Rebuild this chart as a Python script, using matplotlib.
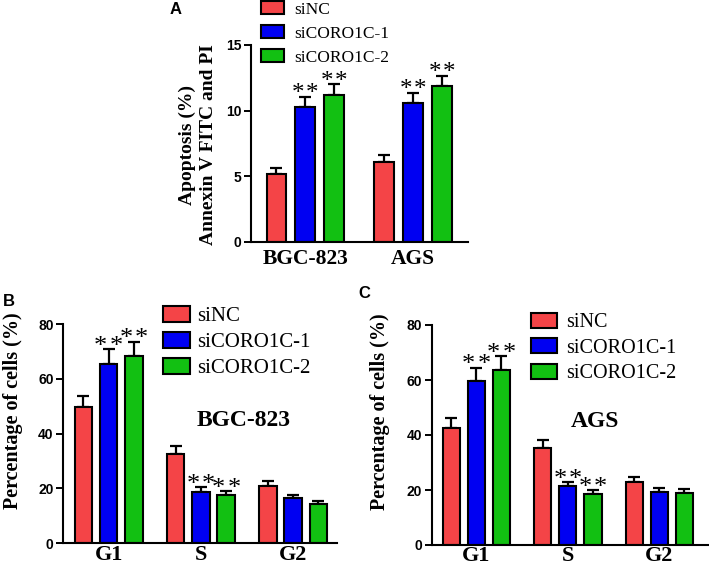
import matplotlib
matplotlib.use("Agg")
import matplotlib.pyplot as plt
from matplotlib.patches import Patch
import numpy as np

SERIF = ["Liberation Serif", "DejaVu Serif"]
SANS = ["Liberation Sans", "DejaVu Sans"]

# --- data ---
series = ["siNC", "siCORO1C-1", "siCORO1C-2"]
colors = ["#F44447", "#0000F2", "#12C012"]

apo_groups = ["BGC-823", "AGS"]
apo_mean = [[5.2, 6.1], [10.3, 10.6], [11.2, 11.9]]
apo_err = [[0.43, 0.5], [0.76, 0.76], [0.84, 0.76]]
apo_sig = [[False, False], [True, True], [True, True]]

phases = ["G1", "S", "G2"]
bgc_mean = [[49.7, 32.7, 20.8], [65.5, 18.8, 16.4], [68.5, 17.6, 14.3]]
bgc_err = [[4.2, 2.8, 1.9], [5.4, 1.6, 1.2], [5.1, 1.4, 1.1]]
bgc_sig = [[False, False, False], [True, True, False], [True, True, False]]

ags_mean = [[42.4, 35.4, 22.9], [59.6, 21.5, 19.4], [63.5, 18.4, 19.0]]
ags_err = [[3.9, 2.8, 1.8], [4.9, 1.5, 1.4], [5.2, 1.5, 1.5]]
ags_sig = [[False, False, False], [True, True, False], [True, True, False]]


def draw_bars(ax, groups, means, errs, sigs, gap, ylim, yticks, xlim,
              star_size, star_dx, tick_size, tick_pad):
    x0 = np.arange(len(groups)) * gap
    for i, (m, e, s) in enumerate(zip(means, errs, sigs)):
        xs = x0 + (i - 1)
        ax.bar(xs, m, width=0.69, color=colors[i], edgecolor="black",
               linewidth=1.5, zorder=2)
        ax.errorbar(xs, m, yerr=[np.zeros(len(m)), e], fmt="none",
                    ecolor="black", elinewidth=1.6, capsize=4.5,
                    capthick=1.6, zorder=1)
        for x, v, err, flag in zip(xs, m, e, s):
            if not flag:
                continue
            # two asterisks with a small gap between them
            for dx in (-star_dx, star_dx):
                ax.annotate("*", xy=(x, v + err), xytext=(dx, -2.7),
                            textcoords="offset points", ha="center",
                            va="baseline", fontsize=star_size, family=SERIF)
    ax.set_xlim(*xlim)
    ax.set_ylim(*ylim)
    ax.set_yticks(yticks)
    ax.set_xticks(x0)
    ax.set_xticklabels(groups, family=SERIF, fontweight="bold",
                       fontsize=tick_size)
    ax.tick_params(axis="x", length=0, pad=tick_pad)
    ax.tick_params(axis="y", length=5, width=1.4, labelsize=10, pad=2)
    for lab in ax.get_yticklabels():
        lab.set_family(SANS)
        lab.set_fontweight("bold")
    for sp in ["top", "right"]:
        ax.spines[sp].set_visible(False)
    for sp in ["left", "bottom"]:
        ax.spines[sp].set_linewidth(1.5)


def add_legend(fig, x, y, size, hlen, hheight, spacing, pad):
    handles = [Patch(facecolor=c, edgecolor="black", linewidth=1.5) for c in colors]
    fig.legend(handles, series, loc="upper left", bbox_to_anchor=(x, y),
               bbox_transform=fig.transFigure, frameon=False, borderpad=0,
               borderaxespad=0, handlelength=hlen, handleheight=hheight,
               labelspacing=spacing, handletextpad=pad,
               prop={"family": SERIF, "size": size})


W, H = 709, 572
fig = plt.figure(figsize=(W / 100, H / 100), dpi=100)


def frac(l, r, b, t):
    return [l / W, 1 - b / H, (r - l) / W, (b - t) / H]


# panel A
axA = fig.add_axes(frac(251, 468.3, 241.7, 45))
draw_bars(axA, apo_groups, apo_mean, apo_err, apo_sig, 3.7, (0, 15),
          [0, 5, 10, 15], (-1.88, 5.62), 18, 5.0, 15.5, 5)
fig.text(198 / W, 1 - 145 / H, "Apoptosis (%)\nAnnexin V FITC and PI",
         rotation=90, ha="center", va="center", multialignment="center",
         family=SERIF, fontweight="bold", fontsize=14, linespacing=1.3)
add_legend(fig, 261 / W, 1 - 1 / H, 12.5, 1.35, 0.8, 0.42, 0.55)
fig.text(176 / W, 1 - 9 / H, "A", ha="center", va="center",
         family=SANS, fontweight="bold", fontsize=12)

# panel B
axB = fig.add_axes(frac(63.3, 336.7, 543.3, 324))
draw_bars(axB, phases, bgc_mean, bgc_err, bgc_sig, 3.65, (0, 80),
          [0, 20, 40, 60, 80], (-1.79, 9.02), 19, 5.6, 16, 1.5)
axB.text(0.66, 0.56, "BGC-823", transform=axB.transAxes, ha="center",
         va="center", family=SERIF, fontweight="bold", fontsize=17)
fig.text(13 / W, 1 - 411 / H, "Percentage of cells (%)", rotation=90,
         ha="center", va="center", family=SERIF, fontweight="bold",
         fontsize=14.5)
add_legend(fig, 163 / W, 1 - 306 / H, 15, 1.3, 0.78, 0.28, 0.35)
fig.text(9 / W, 1 - 301 / H, "B", ha="center", va="center",
         family=SANS, fontweight="bold", fontsize=12)

# panel C
axC = fig.add_axes(frac(431.7, 708, 545, 325))
draw_bars(axC, phases, ags_mean, ags_err, ags_sig, 3.66, (0, 80),
          [0, 20, 40, 60, 80], (-1.78, 9.26), 19, 5.6, 16, 1.0)
axC.text(0.59, 0.56, "AGS", transform=axC.transAxes, ha="center",
         va="center", family=SERIF, fontweight="bold", fontsize=17)
fig.text(380 / W, 1 - 412 / H, "Percentage of cells (%)", rotation=90,
         ha="center", va="center", family=SERIF, fontweight="bold",
         fontsize=14.5)
add_legend(fig, 531 / W, 1 - 313 / H, 14.5, 1.3, 0.75, 0.3, 0.45)
fig.text(364 / W, 1 - 294 / H, "C", ha="center", va="center",
         family=SANS, fontweight="bold", fontsize=12)

fig.savefig("out.png", dpi=100)
